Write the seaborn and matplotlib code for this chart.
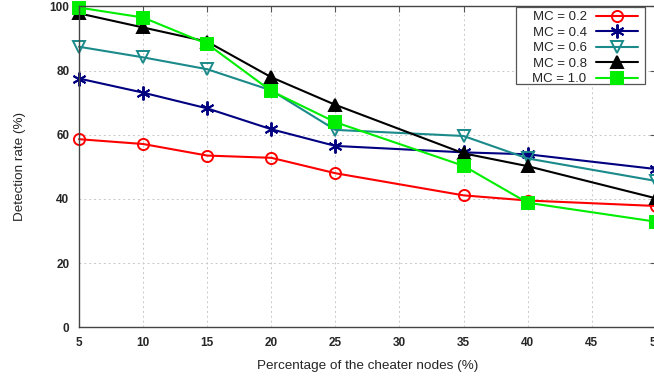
import matplotlib
matplotlib.use("Agg")
import matplotlib.pyplot as plt
from matplotlib.patches import Rectangle
import seaborn as sns
import pandas as pd

x_vals = [5, 10, 15, 20, 25, 35, 40, 50]
mc_02 = [58.6, 57.1, 53.5, 52.8, 48.0, 41.1, 39.5, 37.8]
mc_04 = [77.5, 73.1, 68.2, 61.7, 56.5, 54.5, 53.9, 49.3]
mc_06 = [87.4, 84.1, 80.4, 73.8, 61.5, 59.6, 52.6, 45.6]
mc_08 = [97.8, 93.4, 89.0, 77.9, 69.3, 54.2, 50.2, 40.2]
mc_10 = [99.6, 96.5, 88.3, 73.6, 63.9, 50.3, 38.8, 32.9]
labels = ["MC = 0.2", "MC = 0.4", "MC = 0.6", "MC = 0.8", "MC = 1.0"]
x_ticks = [5, 10, 15, 20, 25, 30, 35, 40, 45, 50]
y_ticks = [0, 20, 40, 60, 80, 100]

series = [mc_02, mc_04, mc_06, mc_08, mc_10]
colors = ["#ff0000", "#000080", "#1a8a8a", "#000000", "#00ee00"]
markers = ["o", (6, 2, 0), "v", "^", "s"]
filled = [False, False, False, True, True]
msizes = [8, 10, 8.5, 8.5, 8]

sns.set_theme(style="white")
plt.rcParams["font.family"] = ["Liberation Sans", "DejaVu Sans"]

W, H = 654, 382
fig = plt.figure(figsize=(6.54, 3.82), dpi=100)
ax = fig.add_axes([79 / W, (H - 327.3) / H, (655.8 - 79) / W, 321 / H])

for vals, lab, c, m, f, ms in zip(series, labels, colors, markers, filled, msizes):
    df = pd.DataFrame({"x": x_vals, "y": vals})
    sns.lineplot(data=df, x="x", y="y", ax=ax, color=c, marker=m, markersize=ms,
                 markerfacecolor=(c if f else "none"), markeredgecolor=c,
                 markeredgewidth=1.4, linewidth=1.5, label=lab, clip_on=False)

ax.set_xlim(5, 50)
ax.set_ylim(0, 100)
ax.set_xticks(x_ticks)
ax.set_yticks(y_ticks)
ax.set_xticklabels([str(t) for t in x_ticks], fontsize=8.5, fontweight="bold")
ax.set_yticklabels([str(t) for t in y_ticks], fontsize=8.5, fontweight="bold")
ax.tick_params(direction="in", length=4, width=0.8, color="#555555", top=True, right=True,
               pad=7)
ax.grid(True, linestyle=(0, (2, 3)), color="#c8c8c8", linewidth=0.7)
for s in ax.spines.values():
    s.set_color("#444444")
    s.set_linewidth(1.0)
ax.set_xlabel("Percentage of the cheater nodes (%)", fontsize=9.7, labelpad=8)
ax.set_ylabel("Detection rate (%)", fontsize=9.7, labelpad=17)

leg = ax.legend(loc="upper right", bbox_to_anchor=(638 / W, 1 - 11 / H),
                bbox_transform=fig.transFigure, markerfirst=False, fontsize=9.5,
                frameon=False, handlelength=3.2, labelspacing=0.25,
                borderpad=0.0, handletextpad=0.7, borderaxespad=0)
leg.set_zorder(6)
frame = Rectangle((516 / W, 1 - 84.3 / H), 129 / W, 77 / H,
                  transform=fig.transFigure, fill=True, facecolor="white",
                  edgecolor="#555555", linewidth=0.9, zorder=5, clip_on=False)
ax.add_artist(frame)
fig.savefig("out.png", dpi=100)
